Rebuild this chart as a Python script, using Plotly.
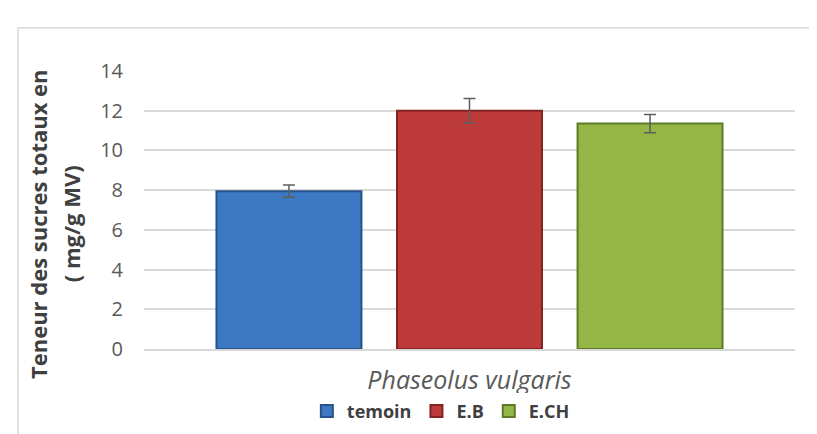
import plotly.graph_objects as go

# ── data ─────────────────────────────────────────────────────────────────────
category = ["Phaseolus vulgaris"]
series_names = ["temoin", "E.B", "E.CH"]
series_values = [7.95, 12.0, 11.35]
series_errors = [0.31, 0.62, 0.46]
series_colors = ["#3d78c2", "#bd3a3a", "#93b647"]
border_colors = ["#27528a", "#832222", "#5f7a27"]
y_ticks = [0, 2, 4, 6, 8, 10, 12, 14]

# ── figure ───────────────────────────────────────────────────────────────────
fig = go.Figure()
for name, val, err, col, bcol in zip(series_names, series_values, series_errors,
                                     series_colors, border_colors):
    fig.add_trace(go.Bar(
        x=category, y=[val], name=name,
        marker=dict(color=col, line=dict(color=bcol, width=2)),
        error_y=dict(type="data", array=[err], color="#5e5e5e",
                     thickness=1.5, width=6),
    ))

fig.update_layout(
    width=817, height=434,
    margin=dict(l=136, r=30, t=63, b=77),
    paper_bgcolor="white", plot_bgcolor="white",
    barmode="group", bargap=0.168, bargroupgap=0.197,
    font=dict(family="Open Sans", color="#595959"),
    showlegend=True,
    legend=dict(orientation="h", x=0.456, xanchor="center", y=-0.224,
                yanchor="middle", font=dict(size=18, color="#404040", weight="bold"),
                itemwidth=30, traceorder="normal"),
)
fig.update_xaxes(
    showgrid=False, showline=True, linecolor="#d9d9d9", linewidth=1.5,
    tickfont=dict(size=25, color="#595959", style="italic"),
    ticklabelstandoff=8, fixedrange=True,
)
fig.update_yaxes(
    range=[0, 14], tickvals=y_ticks, showgrid=True, gridcolor="#d9d9d9",
    gridwidth=1.5, zeroline=False, showline=False,
    tickfont=dict(size=20, color="#595959"), ticklabelstandoff=20,
)

# y axis title as two rotated lines
fig.add_annotation(text="<b>Teneur des sucres totaux en</b>", textangle=-90,
                   xref="paper", yref="paper", x=-0.163, y=0.449,
                   xanchor="center", yanchor="middle", showarrow=False,
                   font=dict(size=22, color="#404040"))
fig.add_annotation(text="<b>( mg/g MV)</b>", textangle=-90,
                   xref="paper", yref="paper", x=-0.112, y=0.449,
                   xanchor="center", yanchor="middle", showarrow=False,
                   font=dict(size=22, color="#404040"))

# chart frame (runs off the right and bottom edge as in the original)
fig.add_shape(type="rect", xref="paper", yref="paper",
              x0=-0.1935, x1=1.2, y0=-0.5, y1=1.156,
              line=dict(color="#d9d9d9", width=1.5), layer="below")

fig.write_html("out.html")
